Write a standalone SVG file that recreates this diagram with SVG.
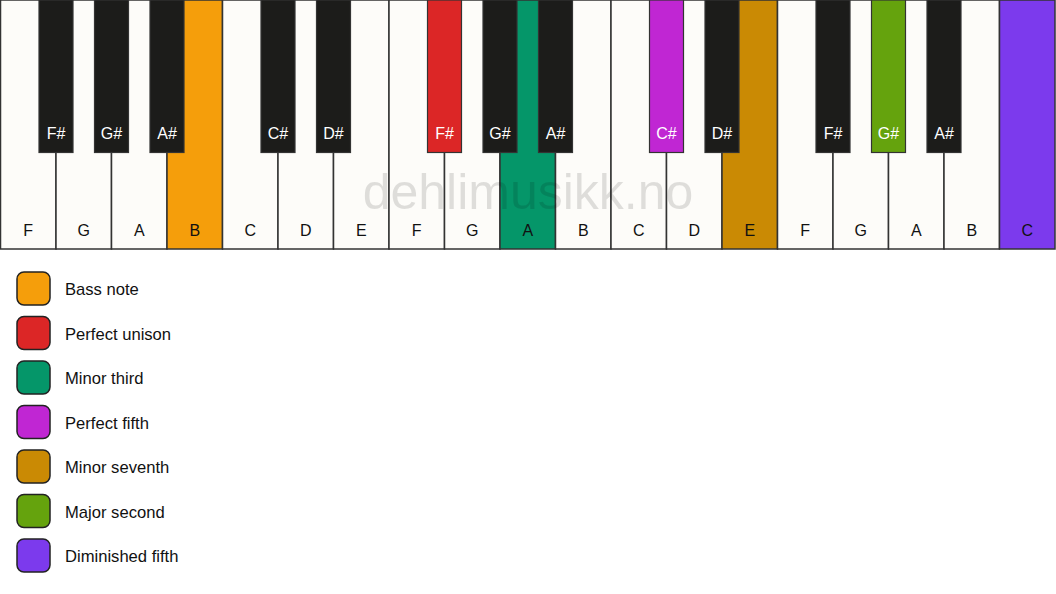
<svg xmlns="http://www.w3.org/2000/svg" width="1056" height="594" viewBox="0 0 1056 594">
<style>
.w{fill:#fdfcf9;stroke:#333;stroke-width:1.5}
.b{fill:#1c1c1a;stroke:#333;stroke-width:1.2}
.lw{font-family:"Liberation Sans",Arial,sans-serif;font-size:16px;fill:#111;text-anchor:middle}
.lb{font-family:"Liberation Sans",Arial,sans-serif;font-size:16px;fill:#fff;text-anchor:middle}
.lg{font-family:"Liberation Sans",Arial,sans-serif;font-size:16.6px;fill:#111}
.sw{stroke:#222;stroke-width:1.5}
</style>
<rect width="1056" height="594" fill="#fff"/>
<g id="white-keys">
<rect class="w" x="0.5" y="0" width="55.5" height="249"/>
<rect class="w" x="56" y="0" width="55.5" height="249"/>
<rect class="w" x="111.5" y="0" width="55.5" height="249"/>
<rect class="w" x="167" y="0" width="55.5" height="249" style="fill:#f59e0b"/>
<rect class="w" x="222.5" y="0" width="55.5" height="249"/>
<rect class="w" x="278" y="0" width="55.5" height="249"/>
<rect class="w" x="333.5" y="0" width="55.5" height="249"/>
<rect class="w" x="389" y="0" width="55.5" height="249"/>
<rect class="w" x="444.5" y="0" width="55.5" height="249"/>
<rect class="w" x="500" y="0" width="55.5" height="249" style="fill:#059669"/>
<rect class="w" x="555.5" y="0" width="55.5" height="249"/>
<rect class="w" x="611" y="0" width="55.5" height="249"/>
<rect class="w" x="666.5" y="0" width="55.5" height="249"/>
<rect class="w" x="722" y="0" width="55.5" height="249" style="fill:#ca8a04"/>
<rect class="w" x="777.5" y="0" width="55.5" height="249"/>
<rect class="w" x="833" y="0" width="55.5" height="249"/>
<rect class="w" x="888.5" y="0" width="55.5" height="249"/>
<rect class="w" x="944" y="0" width="55.5" height="249"/>
<rect class="w" x="999.5" y="0" width="55.5" height="249" style="fill:#7c3aed"/>
<text class="lw" x="28.25" y="236">F</text>
<text class="lw" x="83.75" y="236">G</text>
<text class="lw" x="139.25" y="236">A</text>
<text class="lw" x="194.75" y="236">B</text>
<text class="lw" x="250.25" y="236">C</text>
<text class="lw" x="305.75" y="236">D</text>
<text class="lw" x="361.25" y="236">E</text>
<text class="lw" x="416.75" y="236">F</text>
<text class="lw" x="472.25" y="236">G</text>
<text class="lw" x="527.75" y="236">A</text>
<text class="lw" x="583.25" y="236">B</text>
<text class="lw" x="638.75" y="236">C</text>
<text class="lw" x="694.25" y="236">D</text>
<text class="lw" x="749.75" y="236">E</text>
<text class="lw" x="805.25" y="236">F</text>
<text class="lw" x="860.75" y="236">G</text>
<text class="lw" x="916.25" y="236">A</text>
<text class="lw" x="971.75" y="236">B</text>
<text class="lw" x="1027.25" y="236">C</text>
</g>
<g id="black-keys">
<rect class="b" x="39" y="0" width="34" height="152.5"/>
<rect class="b" x="94.5" y="0" width="34" height="152.5"/>
<rect class="b" x="150" y="0" width="34" height="152.5"/>
<rect class="b" x="261" y="0" width="34" height="152.5"/>
<rect class="b" x="316.5" y="0" width="34" height="152.5"/>
<rect class="b" x="427.5" y="0" width="34" height="152.5" style="fill:#dc2626"/>
<rect class="b" x="483" y="0" width="34" height="152.5"/>
<rect class="b" x="538.5" y="0" width="34" height="152.5"/>
<rect class="b" x="649.5" y="0" width="34" height="152.5" style="fill:#c026d3"/>
<rect class="b" x="705" y="0" width="34" height="152.5"/>
<rect class="b" x="816" y="0" width="34" height="152.5"/>
<rect class="b" x="871.5" y="0" width="34" height="152.5" style="fill:#65a30d"/>
<rect class="b" x="927" y="0" width="34" height="152.5"/>
<text class="lb" x="56" y="139">F#</text>
<text class="lb" x="111.5" y="139">G#</text>
<text class="lb" x="167" y="139">A#</text>
<text class="lb" x="278" y="139">C#</text>
<text class="lb" x="333.5" y="139">D#</text>
<text class="lb" x="444.5" y="139">F#</text>
<text class="lb" x="500" y="139">G#</text>
<text class="lb" x="555.5" y="139">A#</text>
<text class="lb" x="666.5" y="139">C#</text>
<text class="lb" x="722" y="139">D#</text>
<text class="lb" x="833" y="139">F#</text>
<text class="lb" x="888.5" y="139">G#</text>
<text class="lb" x="944" y="139">A#</text>
</g>
<text id="watermark" x="528" y="209" font-family="Liberation Sans,Arial,sans-serif" font-size="50" fill="#000" fill-opacity="0.12" text-anchor="middle">dehlimusikk.no</text>
<g id="legend">
<g id="leg-bass"><rect class="sw" x="17" y="272" width="33" height="33" rx="7" fill="#f59e0b"/><text class="lg" x="65" y="295">Bass note</text></g>
<g id="leg-unison"><rect class="sw" x="17" y="316.5" width="33" height="33" rx="7" fill="#dc2626"/><text class="lg" x="65" y="339.5">Perfect unison</text></g>
<g id="leg-minor3"><rect class="sw" x="17" y="361" width="33" height="33" rx="7" fill="#059669"/><text class="lg" x="65" y="384">Minor third</text></g>
<g id="leg-p5"><rect class="sw" x="17" y="405.5" width="33" height="33" rx="7" fill="#c026d3"/><text class="lg" x="65" y="428.5">Perfect fifth</text></g>
<g id="leg-m7"><rect class="sw" x="17" y="450" width="33" height="33" rx="7" fill="#ca8a04"/><text class="lg" x="65" y="473">Minor seventh</text></g>
<g id="leg-M2"><rect class="sw" x="17" y="494.5" width="33" height="33" rx="7" fill="#65a30d"/><text class="lg" x="65" y="517.5">Major second</text></g>
<g id="leg-d5"><rect class="sw" x="17" y="539" width="33" height="33" rx="7" fill="#7c3aed"/><text class="lg" x="65" y="562">Diminished fifth</text></g>
</g>
</svg>
